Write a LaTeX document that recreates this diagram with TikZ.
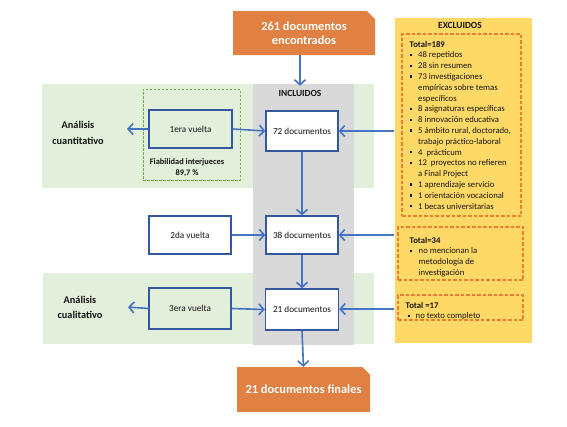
\documentclass[tikz,border=0pt]{standalone}
\usepackage{fontspec}
\setmainfont{Carlito}
\usetikzlibrary{arrows.meta,shapes.misc}
\definecolor{bandgreen}{RGB}{226,239,218}
\definecolor{bandgray}{RGB}{217,217,217}
\definecolor{exyellow}{RGB}{255,217,102}
\definecolor{dashorange}{RGB}{237,125,49}
\definecolor{boxorange}{RGB}{224,128,66}
\definecolor{arrowblue}{RGB}{68,114,196}
\definecolor{boxblue}{RGB}{52,88,160}
\definecolor{dashgreen}{RGB}{112,173,71}
\definecolor{txt}{RGB}{20,20,20}
\newcommand\exsq{\rule[1.7pt]{2.4pt}{2.4pt}}
\begin{document}
\begin{tikzpicture}[x=1pt,y=-1pt,
  band/.style={fill=#1, draw=none, inner sep=0pt},
  orangebox/.style={chamfered rectangle, chamfered rectangle corners={north east}, chamfered rectangle xsep=5pt, fill=boxorange, text=white, font=\fontsize{12.4}{14.5}\selectfont\bfseries, align=center, inner sep=0pt},
  docbox/.style={draw=boxblue, line width=1.3pt, fill=white, text=txt, font=\fontsize{9.2}{11}\selectfont, inner sep=0pt},
  vbox/.style={draw=boxblue, line width=1.3pt, text=txt, font=\fontsize{9.2}{11}\selectfont, inner sep=0pt},
  exdash/.style={draw=dashorange, line width=1.1pt, dash pattern=on 3.5pt off 2pt, inner sep=0pt},
  arr/.style={draw=arrowblue, line width=1.6pt, -{Straight Barb[length=5pt,width=11pt,line width=1.6pt]}},
  lbl/.style={font=\fontsize{10.3}{15.5}\selectfont\bfseries, align=center, text=txt},
  listtxt/.style={font=\fontsize{8.7}{10.8}\selectfont, text=txt, inner sep=0pt}
]
\useasboundingbox (0,0) rectangle (567,426);
% background regions
\node[band=bandgreen, minimum width=332pt, minimum height=104pt] (gtop) at (208,136) {};
\node[band=bandgreen, minimum width=331pt, minimum height=71pt] (gbot) at (208.5,308.5) {};
\node[band=bandgray, minimum width=101pt, minimum height=261pt] (incl) at (303.5,214.5) {};
\node[band=exyellow, minimum width=137pt, minimum height=325pt] (excl) at (463.5,180.5) {};
% titles
\node[font=\fontsize{9.4}{11}\selectfont\bfseries, text=txt] (inclt) at (300,93) {INCLUIDOS};
\node[font=\fontsize{9.4}{11}\selectfont\bfseries, text=txt] (exclt) at (460,25) {EXCLUIDOS};
% orange boxes
\node[orangebox, minimum width=142pt, minimum height=44pt] (top) at (304,33) {261 documentos\\encontrados};
\node[orangebox, minimum width=133pt, minimum height=45pt] (fin) at (303.5,389.5) {21 documentos finales};
% dashed green box
\node[draw=dashgreen, line width=0.9pt, dash pattern=on 2.5pt off 1.5pt, minimum width=97pt, minimum height=91pt, inner sep=0pt] (fiab) at (191.5,134.5) {};
\node[font=\fontsize{8.4}{11}\selectfont\bfseries, text=txt, align=center] (fiabt) at (187,167.5) {Fiabilidad interjueces\\89,7 \%};
% vuelta boxes
\node[vbox, minimum width=83pt, minimum height=38pt] (v1) at (190.5,129) {1era vuelta};
\node[vbox, fill=white, minimum width=82pt, minimum height=38pt] (v2) at (190,235) {2da vuelta};
\node[vbox, minimum width=82pt, minimum height=41pt] (v3) at (190,308.5) {3era vuelta};
% document boxes
\node[docbox, minimum width=72pt, minimum height=40pt] (b72) at (302,131) {72 documentos};
\node[docbox, minimum width=72pt, minimum height=38pt] (b38) at (302,235) {38 documentos};
\node[docbox, minimum width=73pt, minimum height=41pt] (b21) at (302,309.5) {21 documentos};
% analysis labels
\node[lbl] (acuant) at (78,133) {Análisis\\cuantitativo};
\node[lbl] (acual) at (80,307.5) {Análisis\\cualitativo};
\coordinate (acuantend) at (127,129);
\coordinate (acualend) at (128,307);
% excluded dashed boxes
\node[exdash, minimum width=119pt, minimum height=182pt] (d1) at (461.5,125) {};
\node[exdash, minimum width=125pt, minimum height=53pt] (d2) at (460.5,253.5) {};
\node[exdash, minimum width=125pt, minimum height=25pt] (d3) at (460.5,307.5) {};
\node[listtxt, anchor=base west] (l1) at (409.5,47) {%
\begin{tabular}[t]{@{}p{8.5pt}@{}l@{}}
\multicolumn{2}{@{}l@{}}{\textbf{Total=189}}\\
\exsq & 48 repetidos\\
\exsq & 28 sin resumen\\
\exsq & 73 investigaciones\\
 & empíricas sobre temas\\
 & específicos\\
\exsq & 8 asignaturas específicas\\
\exsq & 8 innovación educativa\\
\exsq & 5 ámbito rural, doctorado,\\
 & trabajo práctico-laboral\\
\exsq & 4\ \ prácticum\\
\exsq & 12\ \ proyectos no refieren\\
 & a Final Project\\
\exsq & 1 aprendizaje servicio\\
\exsq & 1 orientación vocacional\\
\exsq & 1 becas universitarias
\end{tabular}};
\node[listtxt, anchor=base west] (l2) at (409.5,243) {%
\begin{tabular}[t]{@{}p{9pt}@{}l@{}}
\multicolumn{2}{@{}l@{}}{\textbf{Total=34}}\\
\exsq & no mencionan la\\
 & metodología de\\
 & investigación
\end{tabular}};
\node[listtxt, anchor=base west] (l3) at (405.5,308) {%
\begin{tabular}[t]{@{}p{10pt}@{}l@{}}
\multicolumn{2}{@{}l@{}}{\textbf{Total =17}}\\
\hspace{2pt}\exsq & no texto completo
\end{tabular}};
% connector end points on the excluded panel
\coordinate (e72) at (394,131);
\coordinate (e38) at (394,235);
\coordinate (e21) at (394,309);
% connectors
\draw[arr] (top.south -| inclt) -- ([yshift=-2pt]incl.north -| inclt);
\draw[arr] (v1.west) -- (acuantend);
\draw[arr] (v1.east) -- (b72.west);
\draw[arr] (e72) -- (b72.east |- e72);
\draw[arr] (b72.south) -- (b38.north);
\draw[arr] (v2.east) -- (b38.west);
\draw[arr] (e38) -- (b38.east |- e38);
\draw[arr] (b38.south) -- (b21.north);
\draw[arr] (v3.west) -- (acualend);
\draw[arr] (v3.east) -- (b21.west);
\draw[arr] (b21.south) -- (fin.north);
\draw[arr] (e21) -- (b21.east |- e21);
\end{tikzpicture}
\end{document}
